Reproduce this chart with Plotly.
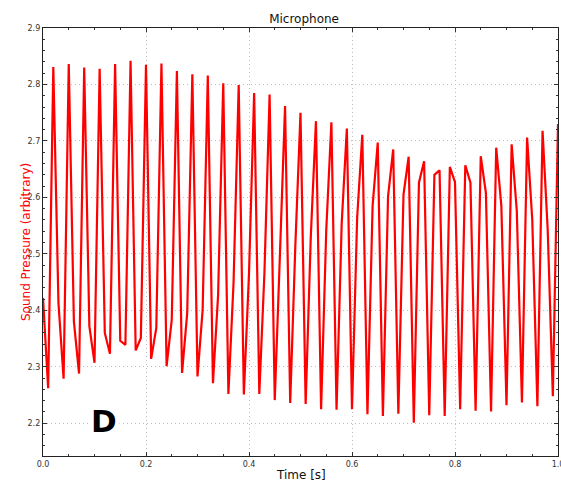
import plotly.graph_objects as go

time_s = [round(i * 0.01, 2) for i in range(101)]

pressure = [
    2.422, 2.262, 2.831, 2.413, 2.279, 2.836, 2.380, 2.288, 2.830, 2.372,
    2.307, 2.828, 2.360, 2.323, 2.836, 2.346, 2.339, 2.842, 2.329, 2.351,
    2.835, 2.314, 2.369, 2.837, 2.301, 2.383, 2.824, 2.289, 2.395, 2.818,
    2.283, 2.401, 2.816, 2.271, 2.427, 2.802, 2.252, 2.449, 2.799, 2.251,
    2.465, 2.785, 2.252, 2.467, 2.782, 2.241, 2.497, 2.762, 2.236, 2.515,
    2.750, 2.234, 2.531, 2.735, 2.225, 2.542, 2.733, 2.224, 2.554, 2.722,
    2.225, 2.564, 2.711, 2.216, 2.585, 2.697, 2.213, 2.602, 2.685, 2.217,
    2.605, 2.672, 2.201, 2.626, 2.664, 2.214, 2.640, 2.648, 2.213, 2.654,
    2.627, 2.225, 2.657, 2.626, 2.222, 2.673, 2.608, 2.221, 2.688, 2.585,
    2.232, 2.694, 2.576, 2.237, 2.706, 2.561, 2.230, 2.718, 2.543, 2.248,
    2.730,
]

x_ticks = [0.0, 0.2, 0.4, 0.6, 0.8, 1.0]
x_tick_labels = ["0.0", "0.2", "0.4", "0.6", "0.8", "1.0"]
y_ticks = [2.2, 2.3, 2.4, 2.5, 2.6, 2.7, 2.8, 2.9]
y_tick_labels = ["2.2", "2.3", "2.4", "2.5", "2.6", "2.7", "2.8", "2.9"]

fig = go.Figure()
fig.add_trace(go.Scatter(
    x=time_s, y=pressure, mode="lines",
    line=dict(color="#ff0000", width=2.2),
    showlegend=False, hoverinfo="skip",
))

fig.add_annotation(
    x=0.118, y=2.204, xref="x", yref="y", text="<b>D</b>",
    showarrow=False, font=dict(family="DejaVu Sans", size=31, color="black"),
    bgcolor="white", borderpad=2,
)
fig.add_annotation(
    x=0.5, y=0, xref="paper", yref="paper", yanchor="top", yshift=-10, text="Time [s]",
    showarrow=False, font=dict(family="DejaVu Sans", size=12, color="#111111"),
)
fig.add_annotation(
    x=0, y=0.5, xref="paper", yref="paper", xshift=-26, text="Sound Pressure (arbitrary)",
    textangle=-90, showarrow=False, font=dict(family="DejaVu Sans", size=12, color="#ff0000"),
)

axis_common = dict(
    showline=True, linecolor="#222222", linewidth=1.3, mirror="ticks",
    ticks="inside", ticklen=4, tickcolor="#333333", tickwidth=1,
    showgrid=True, gridcolor="#bdbdbd", griddash="1px,3px", gridwidth=1,
    zeroline=False, automargin=False, ticklabeloverflow="allow",
    tickfont=dict(family="DejaVu Sans", size=8, color="#333333"),
)

fig.update_xaxes(
    range=[0, 1.0], tickvals=x_ticks, ticktext=x_tick_labels,
    minor=dict(dtick=0.05, tick0=0, ticks="inside", ticklen=2, tickcolor="#333333", showgrid=False),
    **axis_common,
)
fig.update_yaxes(
    range=[2.142, 2.9], tickvals=y_ticks, ticktext=y_tick_labels,
    minor=dict(dtick=0.02, tick0=2.2, ticks="inside", ticklen=2, tickcolor="#333333", showgrid=False),
    **axis_common,
)

fig.update_layout(
    width=561, height=481,
    margin=dict(l=43, r=3, t=28, b=25, autoexpand=False),
    paper_bgcolor="white", plot_bgcolor="white",
    title=dict(text="Microphone", x=0.542, xanchor="center", y=0.9605, yanchor="middle",
               font=dict(family="DejaVu Sans", size=12, color="#111111")),
)

fig.write_html(
    "out.html",
    config={"displayModeBar": False},
    post_script="document.body.style.margin='0';document.body.style.overflow='hidden';",
)
